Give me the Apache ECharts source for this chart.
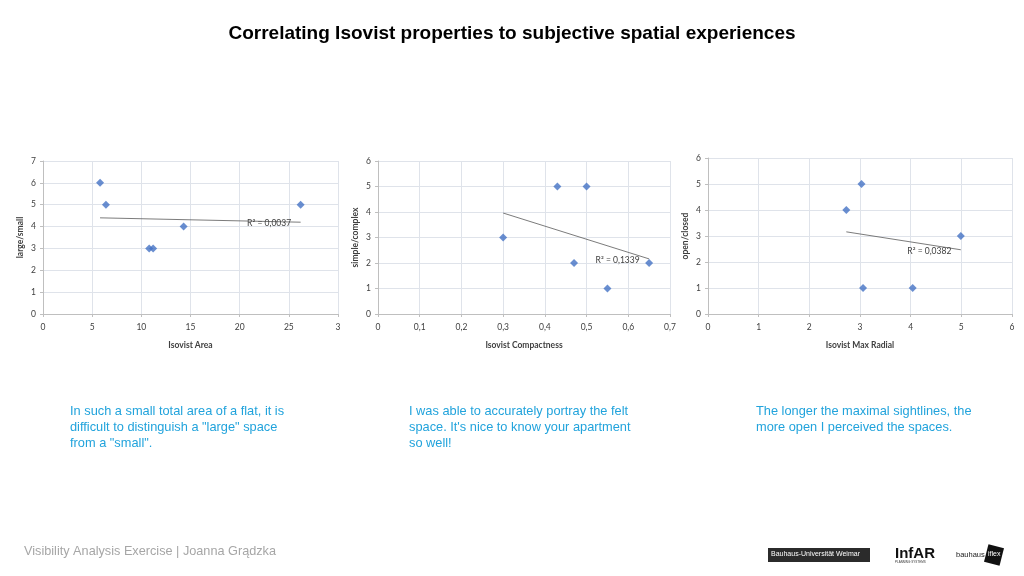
<!DOCTYPE html>
<html><head><meta charset="utf-8">
<script src="https://cdn.jsdelivr.net/npm/echarts@6/dist/echarts.min.js"></script>
<style>html,body{margin:0;padding:0;background:#fff}#c{width:1024px;height:576px}</style>
</head><body><div id="c"></div>
<script>
// Chart 1: Isovist Area vs large/small
const areaX = [5.8, 6.4, 10.8, 11.2, 14.3, 26.2];
const areaY = [6, 5, 3, 3, 4, 5];
const areaTrendX = [5.8, 26.2];
const areaTrendY = [4.4, 4.2];
const areaR2 = 'R² = 0,0037';
// Chart 2: Isovist Compactness vs simple/complex
const compX = [0.3, 0.43, 0.5, 0.47, 0.55, 0.65];
const compY = [3, 5, 5, 2, 1, 2];
const compTrendX = [0.3, 0.65];
const compTrendY = [3.96, 2.16];
const compR2 = 'R² = 0,1339';
// Chart 3: Isovist Max Radial vs open/closed
const radX = [2.73, 3.03, 3.06, 4.04, 4.99];
const radY = [4, 5, 1, 1, 3];
const radTrendX = [2.73, 4.99];
const radTrendY = [3.16, 2.47];
const radR2 = 'R² = 0,0382';

const titleText = 'Correlating Isovist properties to subjective spatial experiences';
const comments = [
  'In such a small total area of a flat, it is\ndifficult to distinguish a "large" space\nfrom a "small".',
  'I was able to accurately portray the felt\nspace. It\'s nice to know your apartment\nso well!',
  'The longer the maximal sightlines, the\nmore open I perceived the spaces.'
];
const footer = 'Visibility Analysis Exercise | Joanna Grądzka';

const pairs = (xs, ys) => xs.map((x, i) => [x, ys[i]]);
const FONT = 'Lato, "Open Sans", sans-serif';
const gridColor = '#dfe3ea';
const axisColor = '#bfbfbf';
const labelColor = '#404040';

function xAxis(idx, name, max, interval, fmt) {
  return {
    gridIndex: idx, type: 'value', min: 0, max: max, interval: interval,
    name: name, nameLocation: 'middle', nameGap: 27,
    nameTextStyle: {fontFamily: FONT, fontSize: 8.5, fontWeight: 'bold', color: labelColor},
    axisLine: {show: true, onZero: false, lineStyle: {color: axisColor}},
    axisTick: {show: true, length: 3, lineStyle: {color: axisColor}},
    axisLabel: {fontFamily: FONT, fontSize: 8.5, color: labelColor, margin: 9, formatter: fmt},
    splitLine: {show: true, lineStyle: {color: gridColor, width: 1}}
  };
}
function yAxis(idx, name, max) {
  return {
    gridIndex: idx, type: 'value', min: 0, max: max, interval: 1,
    name: name, nameLocation: 'middle', nameGap: 18, nameRotate: 90,
    nameTextStyle: {fontFamily: FONT, fontSize: 8.5, fontWeight: 'bold', color: labelColor},
    axisLine: {show: true, onZero: false, lineStyle: {color: axisColor}},
    axisTick: {show: true, length: 3, lineStyle: {color: axisColor}},
    axisLabel: {fontFamily: FONT, fontSize: 8.5, color: labelColor, margin: 7},
    splitLine: {show: true, lineStyle: {color: gridColor, width: 1}}
  };
}
const commaFmt = v => v === 0 ? '0' : v.toFixed(1).replace('.', ',');

function scatter(idx, xs, ys) {
  return {
    type: 'scatter', xAxisIndex: idx, yAxisIndex: idx, data: pairs(xs, ys),
    symbol: 'diamond', symbolSize: 8, itemStyle: {color: '#4472c4'}, z: 5
  };
}
function trend(idx, xs, ys, label) {
  return {
    type: 'line', xAxisIndex: idx, yAxisIndex: idx, data: pairs(xs, ys),
    symbol: 'none', lineStyle: {color: '#595959', width: 0.8}, z: 4,
    markPoint: {
      symbol: 'circle', symbolSize: 1, itemStyle: {color: 'rgba(0,0,0,0)'},
      data: [{coord: [xs[1], ys[1]], value: 0}],
      label: {show: true, formatter: label, fontFamily: FONT, fontSize: 8.5, color: labelColor,
              position: 'left', distance: 9, offset: [0, 1]}
    }
  };
}

const chart = echarts.init(document.getElementById('c'));
chart.setOption({
  animation: false,
  backgroundColor: '#ffffff',
  title: {text: titleText, left: 'center', top: 19,
    textStyle: {fontFamily: '"Liberation Sans", Arial, sans-serif', fontSize: 19, fontWeight: 'bold', color: '#000'}},
  grid: [
    {left: 43, top: 161, width: 295, height: 153},
    {left: 378, top: 161, width: 292, height: 153},
    {left: 708, top: 158, width: 304, height: 156}
  ],
  xAxis: [
    xAxis(0, 'Isovist Area', 30, 5, v => v === 30 ? '3' : String(v)),
    xAxis(1, 'Isovist Compactness', 0.7, 0.1, commaFmt),
    xAxis(2, 'Isovist Max Radial', 6, 1)
  ],
  yAxis: [
    yAxis(0, 'large/small', 7),
    yAxis(1, 'simple/complex', 6),
    yAxis(2, 'open/closed', 6)
  ],
  series: [
    scatter(0, areaX, areaY), trend(0, areaTrendX, areaTrendY, areaR2),
    scatter(1, compX, compY), trend(1, compTrendX, compTrendY, compR2),
    scatter(2, radX, radY), trend(2, radTrendX, radTrendY, radR2)
  ],
  graphic: [
    {type: 'text', left: 70, top: 403, style: {text: comments[0], font: '12.8px "Liberation Sans", Arial, sans-serif', fill: '#21a3dc', lineHeight: 16}},
    {type: 'text', left: 409, top: 403, style: {text: comments[1], font: '12.8px "Liberation Sans", Arial, sans-serif', fill: '#21a3dc', lineHeight: 16}},
    {type: 'text', left: 756, top: 403, style: {text: comments[2], font: '12.8px "Liberation Sans", Arial, sans-serif', fill: '#21a3dc', lineHeight: 16}},
    {type: 'text', left: 24, top: 545, style: {text: footer, font: '12.7px "Liberation Sans", Arial, sans-serif', fill: '#a6a6a6'}},
    {type: 'rect', left: 768, top: 548, shape: {width: 102, height: 14}, style: {fill: '#2b2b2b'}},
    {type: 'text', left: 771, top: 551, style: {text: 'Bauhaus-Universität Weimar', font: '7px "Liberation Sans", sans-serif', fill: '#ffffff'}},
    {type: 'text', left: 895, top: 546, style: {text: 'InfAR', font: 'bold 15px "Liberation Sans", Arial, sans-serif', fill: '#111'}},
    {type: 'text', left: 895, top: 561, style: {text: 'PLANNING·SYSTEMS', font: '3px "Liberation Sans", sans-serif', fill: '#333'}},
    {type: 'text', left: 956, top: 551, style: {text: 'bauhaus', font: '7.5px "Liberation Sans", sans-serif', fill: '#222'}},
    {type: 'rect', x: 994, y: 555, originX: 0, originY: 0, rotation: -0.25,
      shape: {x: -8, y: -9, width: 16, height: 18}, style: {fill: '#111'}},
    {type: 'text', x: 988, y: 551, style: {text: 'iflex', font: '7px "Liberation Sans", sans-serif', fill: '#fff'}}
  ]
});
</script></body></html>
